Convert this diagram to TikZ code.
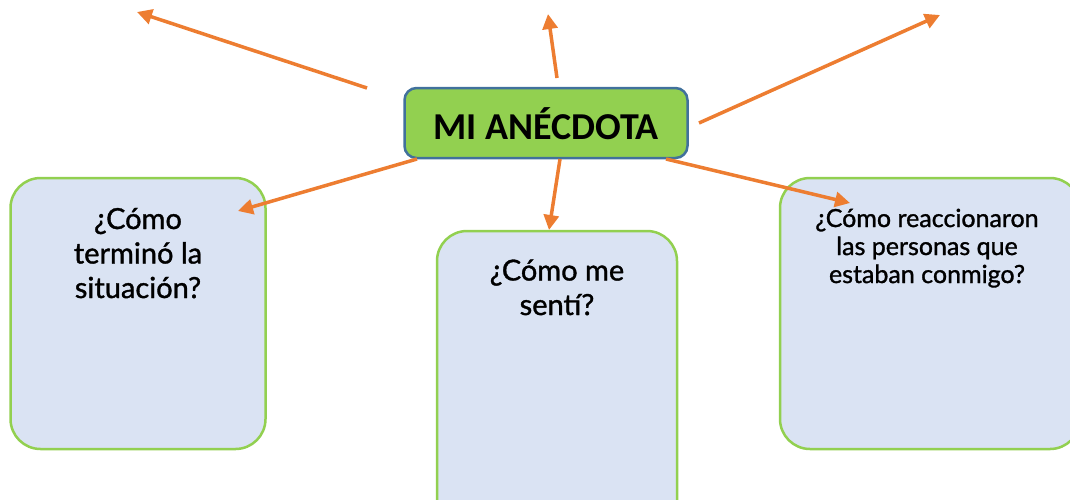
\documentclass[tikz,border=0pt]{standalone}
\usepackage{fontspec}
\setmainfont{Carlito}
\newfontfamily\boxfont[FakeBold=1.2]{Lato}
\usetikzlibrary{arrows.meta}
\definecolor{arrOrange}{HTML}{ED7D31}
\definecolor{titleGreen}{HTML}{92D050}
\definecolor{titleBlue}{HTML}{41719C}
\definecolor{boxFill}{HTML}{DAE3F3}
\definecolor{boxLine}{HTML}{92D050}
\tikzset{
  conn/.style={draw=arrOrange, line width=3.5pt, -{Triangle[length=15pt,width=15pt]}},
  qbox/.style={draw=boxLine, fill=boxFill, line width=2.5pt, rounded corners=30pt, inner sep=0pt},
  qtext/.style={align=center, font=\boxfont\fontsize{29}{34.5}\selectfont, anchor=base, inner sep=0pt},
  titlebox/.style={draw=titleBlue, fill=titleGreen, line width=2.5pt, rounded corners=12pt, inner sep=0pt, minimum width=283pt, minimum height=70pt}
}
\begin{document}
\begin{tikzpicture}[x=1pt,y=-1pt]
\useasboundingbox (0,0) rectangle (1070,499);
\clip (0,0) rectangle (1070,499);
% question boxes
\node[qbox, minimum width=255pt, minimum height=271pt] (left) at (138,313.5) {};
\node[qbox, minimum width=240pt, minimum height=300pt] (mid) at (557,381) {};
\node[qbox, minimum width=300pt, minimum height=271pt] (right) at (930,313.5) {};
% title
\node[titlebox] (title) at (546,123) {};
\node[font=\fontsize{38}{44}\selectfont\bfseries, anchor=base, inner sep=0pt] (titletext) at (546,139) {MI ANÉCDOTA};
% texts (base anchor = baseline of last line)
\node[qtext] (lefttext) at (138,298) {¿Cómo\\terminó la\\situación?};
\node[qtext] (midtext) at (557,315) {¿Cómo me\\sentí?};
\node[qtext, font=\boxfont\fontsize{25}{28}\selectfont] (righttext) at (927,283) {¿Cómo reaccionaron\\las personas que\\estaban conmigo?};
% arrow end points
\coordinate (tlS) at (367,88);
\coordinate (tlE) at (137,12);
\coordinate (tmS) at (557,78);
\coordinate (tmE) at (548,14);
\coordinate (trS) at (699,123);
\coordinate (trE) at (940,15);
\coordinate (blS) at (417,159);
\coordinate (blE) at (238,211);
\coordinate (bmS) at (560,159);
\coordinate (bmE) at (549,230);
\coordinate (brS) at (666,159);
\coordinate (brE) at (850,203);
\draw[conn] (tlS) -- (tlE);
\draw[conn] (tmS) -- (tmE);
\draw[conn] (trS) -- (trE);
\draw[conn] (blS) -- (blE);
\draw[conn] (bmS) -- (bmE);
\draw[conn] (brS) -- (brE);
\end{tikzpicture}
\end{document}
